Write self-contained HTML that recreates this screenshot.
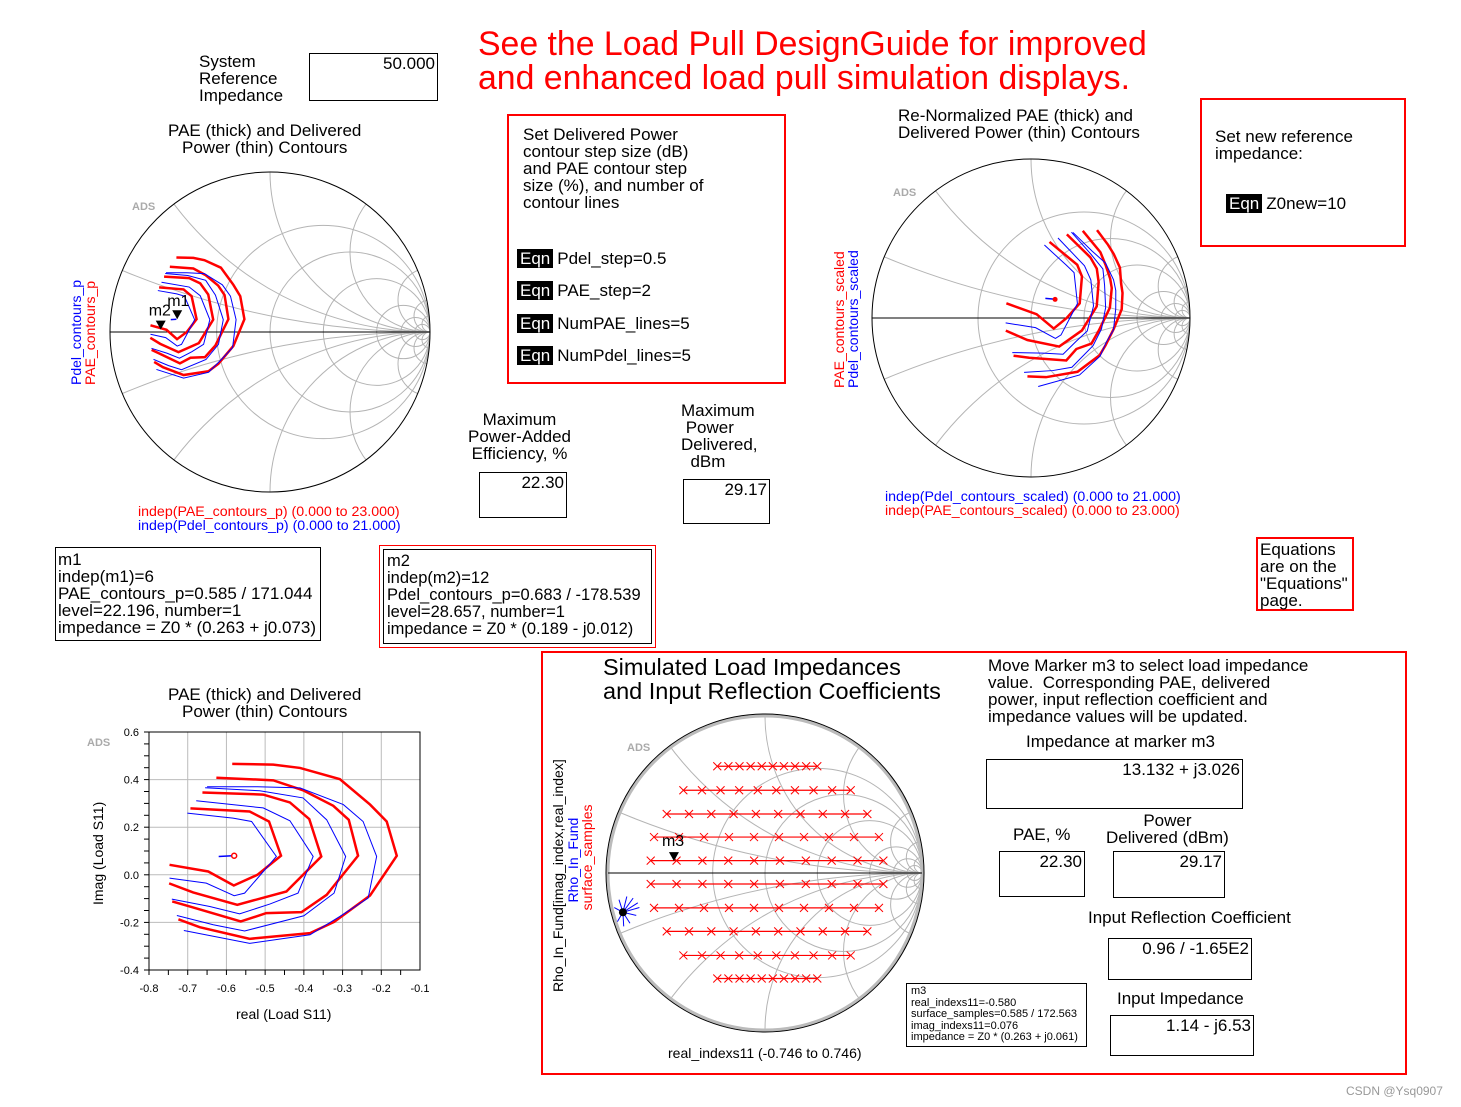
<!DOCTYPE html>
<html style="overflow:hidden"><head><meta charset="utf-8"><style>
html,body{overflow:hidden}
body{margin:0;width:1461px;height:1107px;background:#fff;position:relative;overflow:hidden;font-family:"Liberation Sans",Arial,sans-serif;color:#000}
.a{position:absolute;white-space:nowrap}
.t16{font-size:17px;line-height:17px;white-space:nowrap}
.box{position:absolute;border:1px solid #000;box-sizing:border-box}
.rbox{position:absolute;border:2px solid #f00;box-sizing:border-box}
.val{position:absolute;right:2px;top:0;font-size:17px}
.eqn{display:inline-block;background:#000;color:#fff;padding:1px 3px;margin-right:4px;font-size:17px}
svg{position:absolute;left:0;top:0}
</style></head><body>
<div class="a t16" style="left:199px;top:53px">System<br>Reference<br>Impedance</div>
<div class="box" style="left:309px;top:53px;width:129px;height:48px"><span class="val">50.000</span></div>
<div class="a" style="left:478px;top:27px;font-size:33.8px;line-height:34px;color:#f00">See the Load Pull DesignGuide for improved<br>and enhanced load pull simulation displays.</div>
<div class="a t16" style="left:168px;top:122px;text-align:center">PAE (thick) and Delivered<br>Power (thin) Contours</div>
<div class="rbox" style="left:507px;top:114px;width:279px;height:270px">
<div class="a t16" style="left:14px;top:10px">Set Delivered Power<br>contour step size (dB)<br>and PAE contour step<br>size (%), and number of<br>contour lines</div>
<div class="a t16" style="left:8px;top:133px"><span class="eqn">Eqn</span>Pdel_step=0.5</div>
<div class="a t16" style="left:8px;top:165px"><span class="eqn">Eqn</span>PAE_step=2</div>
<div class="a t16" style="left:8px;top:198px"><span class="eqn">Eqn</span>NumPAE_lines=5</div>
<div class="a t16" style="left:8px;top:230px"><span class="eqn">Eqn</span>NumPdel_lines=5</div>
</div>
<div class="a t16" style="left:898px;top:107px">Re-Normalized PAE (thick) and<br>Delivered Power (thin) Contours</div>
<div class="rbox" style="left:1200px;top:98px;width:206px;height:149px">
<div class="a t16" style="left:13px;top:28px">Set new reference<br>impedance:</div>
<div class="a t16" style="left:24px;top:94px"><span class="eqn">Eqn</span>Z0new=10</div>
</div>
<div class="a t16" style="left:468px;top:411px;text-align:center">Maximum<br>Power-Added<br>Efficiency, %</div>
<div class="box" style="left:479px;top:472px;width:88px;height:46px"><span class="val">22.30</span></div>
<div class="a t16" style="left:681px;top:402px">Maximum<br>&nbsp;Power<br>Delivered,<br>&nbsp;&nbsp;dBm</div>
<div class="box" style="left:683px;top:479px;width:87px;height:45px"><span class="val">29.17</span></div>
<div class="a" style="left:138px;top:505px;font-size:14.2px;line-height:14px"><span style="color:#f00">indep(PAE_contours_p) (0.000 to 23.000)</span><br><span style="color:#00f">indep(Pdel_contours_p) (0.000 to 21.000)</span></div>
<div class="a" style="left:885px;top:490px;font-size:14.2px;line-height:14px"><span style="color:#00f">indep(Pdel_contours_scaled) (0.000 to 21.000)</span><br><span style="color:#f00">indep(PAE_contours_scaled) (0.000 to 23.000)</span></div>
<div class="a" style="left:69px;top:385px;transform:rotate(-90deg);transform-origin:0 0;font-size:14px;line-height:14px"><span style="color:#00f">Pdel_contours_p</span><br><span style="color:#f00">PAE_contours_p</span></div>
<div class="a" style="left:832px;top:388px;transform:rotate(-90deg);transform-origin:0 0;font-size:14px;line-height:14px"><span style="color:#f00">PAE_contours_scaled</span><br><span style="color:#00f">Pdel_contours_scaled</span></div>
<div class="box" style="left:1256px;top:537px;width:98px;height:74px;border:2px solid #f00;padding:2px"><div class="t16">Equations<br>are on the<br>"Equations"<br>page.</div></div>
<div class="box" style="left:55px;top:547px;width:266px;height:94px;padding:3px 2px"><div class="t16">m1<br>indep(m1)=6<br>PAE_contours_p=0.585 / 171.044<br>level=22.196, number=1<br>impedance = Z0 * (0.263 + j0.073)</div></div>
<div class="box" style="left:379px;top:545px;width:277px;height:103px;border-color:#f00;padding:3px"><div style="border:1px solid #000;height:95px;padding:3px 3px;box-sizing:border-box;font-size:16.5px" class="t16">m2<br>indep(m2)=12<br>Pdel_contours_p=0.683 / -178.539<br>level=28.657, number=1<br>impedance = Z0 * (0.189 - j0.012)</div></div>
<div class="a t16" style="left:168px;top:686px;text-align:center">PAE (thick) and Delivered<br>Power (thin) Contours</div>
<div class="a" style="left:236px;top:1006px;font-size:14px">real (Load S11)</div>
<div class="a" style="left:90px;top:905px;transform:rotate(-90deg);transform-origin:0 0;font-size:14px">Imag (Load S11)</div>
<div class="rbox" style="left:541px;top:651px;width:866px;height:424px"></div>
<div class="a" style="left:603px;top:655px;font-size:23.5px;line-height:24px">Simulated Load Impedances<br>and Input Reflection Coefficients</div>
<div class="a t16" style="left:988px;top:657px">Move Marker m3 to select load impedance<br>value.&nbsp; Corresponding PAE, delivered<br>power, input reflection coefficient and<br>impedance values will be updated.</div>
<div class="a t16" style="left:1026px;top:733px">Impedance at marker m3</div>
<div class="box" style="left:986px;top:759px;width:257px;height:50px"><span class="val">13.132 + j3.026</span></div>
<div class="a t16" style="left:1013px;top:826px">PAE, %</div>
<div class="a t16" style="left:1106px;top:812px;text-align:center">Power<br>Delivered (dBm)</div>
<div class="box" style="left:999px;top:851px;width:86px;height:46px"><span class="val">22.30</span></div>
<div class="box" style="left:1113px;top:851px;width:112px;height:47px"><span class="val">29.17</span></div>
<div class="a t16" style="left:1088px;top:909px">Input Reflection Coefficient</div>
<div class="box" style="left:1108px;top:938px;width:144px;height:42px"><span class="val">0.96 / -1.65E2</span></div>
<div class="a t16" style="left:1117px;top:990px">Input Impedance</div>
<div class="box" style="left:1110px;top:1015px;width:144px;height:41px"><span class="val">1.14 - j6.53</span></div>
<div class="box" style="left:906px;top:983px;width:181px;height:64px;padding:2px 4px"><div style="font-size:11px;line-height:11.5px;white-space:nowrap">m3<br>real_indexs11=-0.580<br>surface_samples=0.585 / 172.563<br>imag_indexs11=0.076<br>impedance = Z0 * (0.263 + j0.061)</div></div>
<div class="a" style="left:551px;top:992px;transform:rotate(-90deg);transform-origin:0 0;font-size:14px;line-height:14.5px">Rho_In_Fund[imag_index,real_index]<br><span style="color:#00f">&nbsp;&nbsp;&nbsp;&nbsp;&nbsp;&nbsp;&nbsp;&nbsp;&nbsp;&nbsp;&nbsp;&nbsp;&nbsp;&nbsp;&nbsp;&nbsp;&nbsp;&nbsp;&nbsp;&nbsp;&nbsp;&nbsp;&nbsp;Rho_In_Fund</span><br><span style="color:#f00">&nbsp;&nbsp;&nbsp;&nbsp;&nbsp;&nbsp;&nbsp;&nbsp;&nbsp;&nbsp;&nbsp;&nbsp;&nbsp;&nbsp;&nbsp;&nbsp;&nbsp;&nbsp;&nbsp;&nbsp;&nbsp;surface_samples</span></div>
<div class="a" style="left:668px;top:1045px;font-size:14px">real_indexs11 (-0.746 to 0.746)</div>
<div class="a" style="left:1346px;top:1084px;font-size:12px;color:#999">CSDN @Ysq0907</div>

<svg id="g" width="1461" height="1107"></svg>
<script>
// PAE contours (thick red) as reflection coefficient points [re, im]
const paeContours=[
[[-0.747,0.042],[-0.647,0.014],[-0.581,-0.045],[-0.52,0.0],[-0.459,0.08],[-0.49,0.224],[-0.54,0.266],[-0.693,0.279]],
[[-0.748,-0.036],[-0.686,-0.074],[-0.572,-0.126],[-0.445,-0.07],[-0.355,0.077],[-0.386,0.234],[-0.436,0.304],[-0.505,0.337],[-0.662,0.346]],
[[-0.74,-0.112],[-0.695,-0.133],[-0.563,-0.196],[-0.497,-0.161],[-0.406,-0.157],[-0.341,-0.084],[-0.26,0.08],[-0.284,0.231],[-0.324,0.29],[-0.402,0.355],[-0.479,0.397],[-0.626,0.408]],
[[-0.724,-0.187],[-0.669,-0.22],[-0.54,-0.269],[-0.384,-0.245],[-0.322,-0.198],[-0.229,-0.087],[-0.16,0.08],[-0.186,0.224],[-0.229,0.295],[-0.307,0.402],[-0.41,0.449],[-0.479,0.463],[-0.585,0.466]]
];
// Delivered power contours (thin blue)
const pdelContours=[
[[-0.747,-0.014],[-0.652,-0.035],[-0.58,-0.088],[-0.553,-0.077],[-0.471,0.077],[-0.535,0.224],[-0.583,0.238],[-0.701,0.259]],
[[-0.741,-0.102],[-0.643,-0.133],[-0.566,-0.164],[-0.488,-0.123],[-0.415,-0.077],[-0.376,0.077],[-0.436,0.227],[-0.505,0.281],[-0.678,0.311]],
[[-0.728,-0.171],[-0.634,-0.21],[-0.553,-0.236],[-0.4,-0.172],[-0.322,-0.077],[-0.292,0.077],[-0.341,0.231],[-0.402,0.323],[-0.514,0.353],[-0.655,0.366]],
[[-0.71,-0.234],[-0.54,-0.288],[-0.384,-0.252],[-0.307,-0.175],[-0.234,-0.098],[-0.212,0.077],[-0.247,0.224],[-0.298,0.295],[-0.41,0.365],[-0.52,0.37],[-0.65,0.37]]
];
const optStub=[[-0.62,0.077],[-0.585,0.08]];
const optPoint=[-0.58,0.08];
const m1Point=[-0.58,0.08];
const m2Point=[-0.683,0.015];
const z0Ratio=50/10;
const xTicks=[-0.8,-0.7,-0.6,-0.5,-0.4,-0.3,-0.2,-0.1];
const yTicks=[-0.4,-0.2,0.0,0.2,0.4,0.6];
// Sample grid rows for bottom chart
const rowImag=[0.68,0.527,0.376,0.229,0.079,-0.07,-0.222,-0.372,-0.525,-0.672];
const rowMin=[-0.304,-0.52,-0.626,-0.707,-0.728,-0.728,-0.707,-0.626,-0.52,-0.304];
const rowMax=[0.333,0.546,0.652,0.726,0.754,0.754,0.726,0.652,0.546,0.333];
const rowCount=[10,10,10,10,10,10,10,10,10,10];
const fanCenter=[-0.905,-0.25];
const fanEnds=[[-0.93,-0.17],[-0.88,-0.15],[-0.84,-0.16],[-0.81,-0.19],[-0.8,-0.22],[-0.82,-0.27],[-0.86,-0.32],[-0.9,-0.34],[-0.94,-0.31],[-0.96,-0.22]];
const m3Point=[-0.58,0.076];

const NS='http://www.w3.org/2000/svg';
const svg=document.getElementById('g');
function el(tag,attrs,parent){const e=document.createElementNS(NS,tag);for(const k in attrs)e.setAttribute(k,attrs[k]);(parent||svg).appendChild(e);return e;}
function renorm(g){const [a,b]=g;const d=(1-a)*(1-a)+b*b;const zr=(1-a*a-b*b)/d*z0Ratio,zi=2*b/d*z0Ratio;const nr=zr-1,ni=zi,dr=zr+1,di=zi;const dd=dr*dr+di*di;return [(nr*dr+ni*di)/dd,(ni*dr-nr*di)/dd];}
let clipId=0;
function smith(cx,cy,R,name,light){
  const grp=el('g',{});
  
  
  const id='c'+(clipId++);
  const cp=el('clipPath',{id:id},grp);el('circle',{cx:cx,cy:cy,r:R},cp);
  const gg=el('g',{'clip-path':'url(#'+id+')',stroke:'#b4b4b4','stroke-width':1,fill:'none'},grp);
  [0.5,1,2,5,10,20].forEach(r=>el('circle',{cx:cx+R*r/(1+r),cy:cy,r:R/(1+r)},gg));
  [0.2,0.5,1,2,5,10,20].forEach(x=>{[1,-1].forEach(s=>el('circle',{cx:cx+R,cy:cy-s*R/x,r:R/x},gg));});
  el('text',{x:cx-138,y:cy-122,'font-size':11,fill:'#aaa','font-weight':'bold'},grp).textContent='ADS';
  el('circle',{cx:cx,cy:cy,r:R,fill:'none',stroke:light?'#bbb':'#000','stroke-width':light?3:1},grp);
  if(light)el('circle',{cx:cx,cy:cy,r:R+2,fill:'none',stroke:'#000','stroke-width':1},grp);
  el('line',{x1:cx-R,y1:cy,x2:cx+R,y2:cy,stroke:'#000'},grp);
  return {grp,px:g=>[cx+g[0]*R,cy-g[1]*R]};
}
function poly(pts,map,color,w,name,parent){
  const p=el('polyline',{points:pts.map(g=>map(g).join(',')).join(' '),fill:'none',stroke:color,'stroke-width':w},parent);
  
  
}
function marker(map,g,label,parent,lx,ly){
  const [x,y]=map(g);
  const t=el('path',{d:`M${x-5},${y-9}L${x+5},${y-9}L${x},${y}Z`,fill:'#000'},parent);
  
  
  el('text',{x:x+lx,y:y+ly,'font-size':16},parent).textContent=label;
}
// left smith
const L=smith(270,332,160,'left-smith-chart');
paeContours.forEach((c,i)=>poly(c,L.px,'#f00',2.5,'pae-contour-'+i,L.grp));
pdelContours.forEach((c,i)=>poly(c,L.px,'#00f',1,'pdel-contour-'+i,L.grp));
poly(optStub,L.px,'#00f',1.5,'opt-stub',L.grp);
marker(L.px,m1Point,'m1',L.grp,-10,-13);
marker(L.px,m2Point,'m2',L.grp,-12,-14);
// right smith
const Rr=smith(1031,318,159,'right-smith-chart');
paeContours.forEach((c,i)=>poly(c.map(renorm),Rr.px,'#f00',2.5,'pae-scaled-contour-'+i,Rr.grp));
pdelContours.forEach((c,i)=>poly(c.map(renorm),Rr.px,'#00f',1,'pdel-scaled-contour-'+i,Rr.grp));
poly(optStub.map(renorm),Rr.px,'#00f',1.5,'opt-stub-scaled',Rr.grp);
{const [x,y]=Rr.px(renorm(optPoint));el('circle',{cx:x,cy:y,r:2.5,fill:'#f00'},Rr.grp);}
// rect plot
const X0=149,X1=420,Y0=970,Y1=732;
const xs=v=>X0+(v+0.8)/0.7*(X1-X0), ys=v=>Y0-(v+0.4)/1.0*(Y0-Y1);
const rg=el('g',{});


xTicks.forEach(v=>{el('line',{x1:xs(v),y1:Y1,x2:xs(v),y2:Y0,stroke:'#bbb'},rg);el('text',{x:xs(v),y:Y0+22,'font-size':11,'text-anchor':'middle'},rg).textContent=v.toFixed(1);});
yTicks.forEach(v=>{el('line',{x1:X0,y1:ys(v),x2:X1,y2:ys(v),stroke:'#bbb'},rg);el('text',{x:X0-10,y:ys(v)+4,'font-size':11,'text-anchor':'end'},rg).textContent=v.toFixed(1);});
for(let v=-0.8;v<=-0.1;v+=0.05)el('line',{x1:xs(v),y1:Y0,x2:xs(v),y2:Y0+5,stroke:'#000'},rg);
for(let v=-0.4;v<=0.6;v+=0.05)el('line',{x1:X0-5,y1:ys(v),x2:X0,y2:ys(v),stroke:'#000'},rg);
el('rect',{x:X0,y:Y1,width:X1-X0,height:Y0-Y1,fill:'none',stroke:'#000'},rg);
el('text',{x:87,y:746,'font-size':11,fill:'#aaa','font-weight':'bold'},rg).textContent='ADS';
const rmap=g=>[xs(g[0]),ys(g[1])];
paeContours.forEach((c,i)=>poly(c,rmap,'#f00',2.5,'rect-pae-contour-'+i,rg));
pdelContours.forEach((c,i)=>poly(c,rmap,'#00f',1,'rect-pdel-contour-'+i,rg));
poly(optStub,rmap,'#00f',1.5,'rect-opt-stub',rg);
{const [x,y]=rmap(optPoint);el('circle',{cx:x,cy:y,r:2.5,fill:'none',stroke:'#f00','stroke-width':1.5},rg);}
// bottom smith
const B=smith(765,873,157,'bottom-smith-chart',true);
rowImag.forEach((im,i)=>{
  const pts=[];for(let k=0;k<rowCount[i];k++)pts.push([rowMin[i]+(rowMax[i]-rowMin[i])*k/(rowCount[i]-1),im]);
  poly(pts,B.px,'#f00',1.2,'sample-row-'+i,B.grp);
  pts.forEach(g=>{const [x,y]=B.px(g);el('path',{d:`M${x-4},${y-4}L${x+4},${y+4}M${x-4},${y+4}L${x+4},${y-4}`,stroke:'#f00','stroke-width':1},B.grp);});
});
fanEnds.forEach((e,i)=>poly([fanCenter,e],B.px,'#00f',1,'rho-line-'+i,B.grp));
{const [x,y]=B.px(fanCenter);el('circle',{cx:x,cy:y,r:4,fill:'#000'},B.grp);}
marker(B.px,m3Point,'m3',B.grp,-12,-15);
</script>
</body></html>
